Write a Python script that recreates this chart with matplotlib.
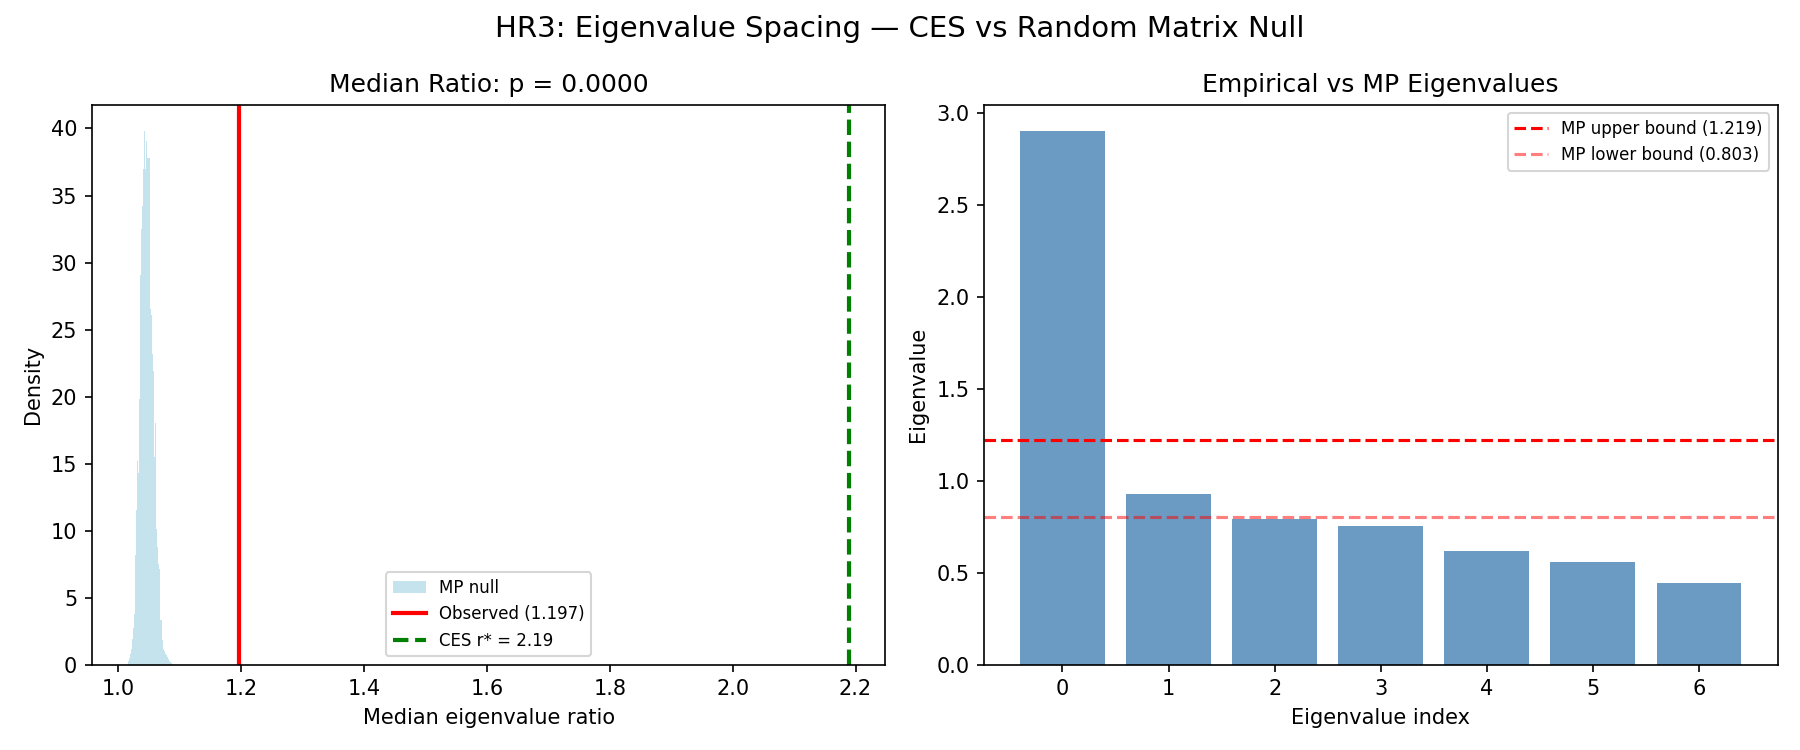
import numpy as np
import matplotlib
matplotlib.use("Agg")
import matplotlib.pyplot as plt

# null distribution of the median eigenvalue ratio (density per bin)
null_start = 1.0159
null_bin_width = 0.001625
null_density = [0.3, 0.5, 0.8, 1.2, 1.9, 2.75, 3.8, 8.2, 11.5, 15.2, 14.3, 19.8,
                29.1, 32.5, 34.2, 37.0, 39.8, 37.0, 39.1, 37.8, 37.8, 37.8,
                26.5, 26.1, 23.2, 21.9, 15.5, 18.0, 10.1, 8.75, 7.5, 7.1,
                3.3, 3.3, 1.85, 1.2, 1.0, 0.8, 0.7, 0.6, 0.4, 0.3, 0.2, 0.1]

observed_ratio = 1.197
ces_r_star = 2.19

eig_index = [0, 1, 2, 3, 4, 5, 6]
eig_values = [2.90, 0.93, 0.79, 0.755, 0.62, 0.555, 0.445]
mp_upper = 1.219
mp_lower = 0.803


def main():
    edges = null_start + null_bin_width * np.arange(len(null_density) + 1)
    centers = (edges[:-1] + edges[1:]) / 2

    fig, (ax1, ax2) = plt.subplots(1, 2, figsize=(12, 5), dpi=150)

    # left: histogram of null + observed / CES lines
    ax1.hist(centers, bins=edges, weights=null_density, color='lightblue',
             alpha=0.7, label='MP null')
    ax1.axvline(observed_ratio, color='red', linewidth=2,
                label=f'Observed ({observed_ratio:.3f})')
    ax1.axvline(ces_r_star, color='green', linestyle='--', linewidth=2,
                label=f'CES r* = {ces_r_star:.2f}')
    ax1.set_xlabel('Median eigenvalue ratio')
    ax1.set_ylabel('Density')
    ax1.set_title('Median Ratio: p = 0.0000')
    ax1.legend(fontsize=8, loc='lower center')

    # right: empirical eigenvalues vs MP bounds
    ax2.bar(eig_index, eig_values, color='steelblue', alpha=0.8)
    ax2.axhline(mp_upper, color='red', linestyle='--', linewidth=1.5,
                label=f'MP upper bound ({mp_upper:.3f})')
    ax2.axhline(mp_lower, color='red', linestyle='--', linewidth=1.5, alpha=0.5,
                label=f'MP lower bound ({mp_lower:.3f})')
    ax2.set_xlabel('Eigenvalue index')
    ax2.set_ylabel('Eigenvalue')
    ax2.set_title('Empirical vs MP Eigenvalues')
    ax2.legend(fontsize=8, loc='upper right')

    fig.suptitle('HR3: Eigenvalue Spacing \u2014 CES vs Random Matrix Null', fontsize=14)
    plt.tight_layout()
    plt.savefig('out.png', dpi=150)


if __name__ == "__main__":
    main()
